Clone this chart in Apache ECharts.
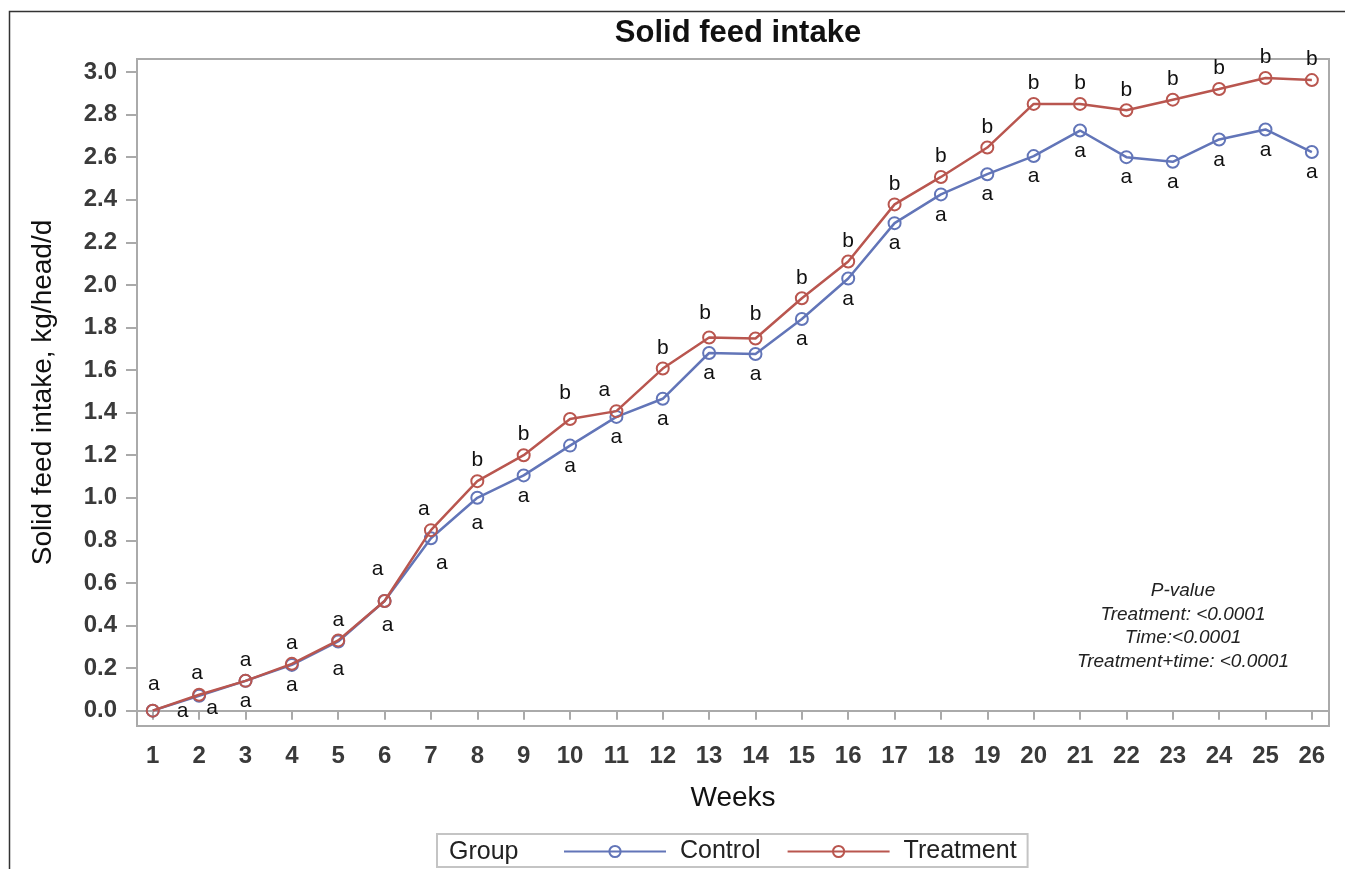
<!DOCTYPE html>
<html>
<head>
<meta charset="utf-8">
<script src="https://cdn.jsdelivr.net/npm/echarts@6/dist/echarts.min.js"></script>
<style>
html,body{margin:0;padding:0;background:#fff;}
#chart{width:1345px;height:869px;}
</style>
</head>
<body>
<div id="chart"></div>
<script>
// ---- data ----
const weeks = [1,2,3,4,5,6,7,8,9,10,11,12,13,14,15,16,17,18,19,20,21,22,23,24,25,26];
const control = [0.00,0.07,0.14,0.215,0.325,0.515,0.81,1.00,1.105,1.245,1.38,1.465,1.68,1.675,1.84,2.03,2.29,2.425,2.52,2.605,2.725,2.60,2.578,2.683,2.73,2.624];
const treatment = [0.00,0.075,0.14,0.22,0.33,0.515,0.848,1.078,1.20,1.37,1.407,1.607,1.753,1.748,1.937,2.11,2.378,2.507,2.645,2.85,2.85,2.82,2.87,2.92,2.972,2.962];
const controlLetters = ['a','a','a','a','a','a','a','a','a','a','a','a','a','a','a','a','a','a','a','a','a','a','a','a','a','a'];
const treatmentLetters = ['a','a','a','a','a','a','a','b','b','b','a','b','b','b','b','b','b','b','b','b','b','b','b','b','b','b'];
const yTicks = [0.0,0.2,0.4,0.6,0.8,1.0,1.2,1.4,1.6,1.8,2.0,2.2,2.4,2.6,2.8,3.0];
const pValueLines = ['P-value','Treatment: <0.0001','Time:<0.0001','Treatment+time: <0.0001'];

// ---- style ----
const BLUE = '#6275b8';
const RED = '#b9564f';
const FONT = '"Liberation Sans", Arial, sans-serif';
// label placement tweaks (style only)
const controlLabelTweaks = {
  0: {position: 'right', distance: 17, offset: [0, 1]},
  1: {position: 'bottom', offset: [13, -8]},
  4: {position: 'bottom', offset: [0, 7]},
  5: {position: 'bottom', offset: [3, 4]},
  6: {position: 'bottom', offset: [11, 4]},
  7: {position: 'bottom', offset: [0, 5]}
};
const treatmentLabelTweaks = {
  0: {position: 'top', offset: [1, -6]},
  1: {position: 'top', offset: [-2, -1]},
  5: {position: 'top', offset: [-7, -11]},
  6: {position: 'top', offset: [-7, 0]},
  9: {position: 'top', offset: [-5, -5]},
  10: {position: 'top', offset: [-12, 0]},
  12: {position: 'top', offset: [-4, -4]},
  13: {position: 'top', offset: [0, -4]}
};

function buildData(vals, letters, tweaks, defPos) {
  return weeks.map((w, i) => {
    const t = tweaks[i] || {};
    return {
      value: [w, vals[i]],
      label: {
        position: t.position || defPos,
        distance: t.distance != null ? t.distance : 3,
        offset: t.offset || [0, 0],
        formatter: letters[i]
      }
    };
  });
}

const chart = echarts.init(document.getElementById('chart'), null, {renderer: 'canvas'});

const labelStyle = {show: true, fontFamily: FONT, fontSize: 21, color: '#111'};

const graphics = [
  {
    type: 'rect', left: 7, top: 9, silent: true,
    shape: {width: 1345, height: 869},
    style: {fill: 'none', stroke: '#333', lineWidth: 1.5}
  },
  {
    type: 'text', silent: true,
    x: 449, y: 852,
    style: {text: 'Group', font: '25px ' + FONT, fill: '#222', verticalAlign: 'middle'}
  }
];
pValueLines.forEach((txt, i) => {
  graphics.push({
    type: 'text', silent: true,
    x: 1183, y: 591 + i * 23.6,
    style: {
      text: txt, font: 'italic 19px ' + FONT, fill: '#222',
      align: 'center', verticalAlign: 'middle'
    }
  });
});

const option = {
  backgroundColor: '#fff',
  animation: false,
  title: {
    text: 'Solid feed intake',
    left: 733, top: 13, textAlign: 'center',
    textStyle: {fontFamily: FONT, fontWeight: 'bold', fontSize: 31, color: '#111'}
  },
  grid: {
    left: 137, top: 59, right: 16, bottom: 143,
    show: true, borderColor: '#aaa', borderWidth: 2, backgroundColor: '#fff'
  },
  legend: {
    left: 437, top: 834,
    padding: [5, 11, 3, 126],
    borderColor: '#c4c4c4', borderWidth: 2,
    itemWidth: 102, itemHeight: 14, itemGap: 26,
    textStyle: {fontFamily: FONT, fontSize: 25, color: '#222', padding: [0, 0, 0, 9]},
    data: ['Control', 'Treatment']
  },
  xAxis: {
    type: 'value',
    min: 0.66, max: 26.37,
    name: 'Weeks', nameLocation: 'middle', nameGap: 58,
    nameTextStyle: {fontFamily: FONT, fontSize: 28, color: '#111'},
    axisLine: {show: true, lineStyle: {color: '#aaa', width: 2}},
    axisTick: {show: true, customValues: weeks, length: 9, lineStyle: {color: '#aaa', width: 2}},
    axisLabel: {
      customValues: weeks, margin: 18,
      fontFamily: FONT, fontSize: 24, fontWeight: 'bold', color: '#3a3a3a'
    },
    splitLine: {show: false}
  },
  yAxis: {
    type: 'value',
    min: -0.072, max: 3.061,
    name: 'Solid feed intake, kg/head/d', nameLocation: 'middle', nameGap: 80,
    nameTextStyle: {fontFamily: FONT, fontSize: 28, color: '#111'},
    axisLine: {show: true, lineStyle: {color: '#aaa', width: 2}},
    axisTick: {show: true, customValues: yTicks, length: 11, lineStyle: {color: '#aaa', width: 2}},
    axisLabel: {
      customValues: yTicks, margin: 20,
      fontFamily: FONT, fontSize: 24, fontWeight: 'bold', color: '#3a3a3a',
      formatter: v => v.toFixed(1)
    },
    splitLine: {show: false}
  },
  series: [
    {
      name: 'Control', type: 'line',
      symbol: 'circle', symbolSize: 12,
      color: BLUE,
      lineStyle: {color: BLUE, width: 2.5},
      itemStyle: {color: 'rgba(255,255,255,0)', borderColor: BLUE, borderWidth: 2},
      label: labelStyle,
      data: buildData(control, controlLetters, controlLabelTweaks, 'bottom'),
      z: 3
    },
    {
      name: 'Treatment', type: 'line',
      symbol: 'circle', symbolSize: 12,
      color: RED,
      lineStyle: {color: RED, width: 2.5},
      itemStyle: {color: 'rgba(255,255,255,0)', borderColor: RED, borderWidth: 2},
      label: labelStyle,
      data: buildData(treatment, treatmentLetters, treatmentLabelTweaks, 'top'),
      z: 4
    }
  ],
  graphic: graphics
};
chart.setOption(option);
</script>
</body>
</html>
